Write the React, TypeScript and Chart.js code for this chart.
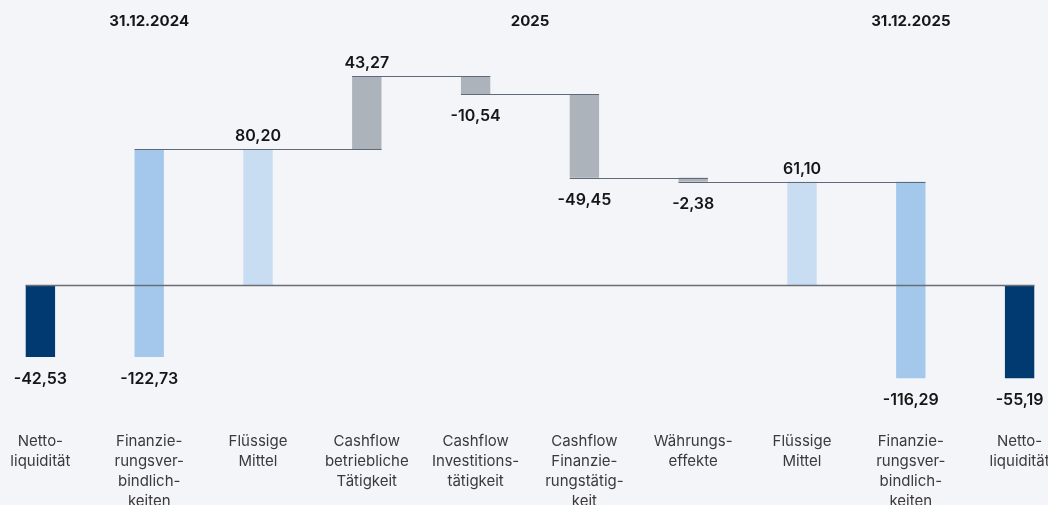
import React, { useEffect, useRef } from "react";
import { Chart, registerables } from "chart.js";

Chart.register(...registerables);

const categories: string[][] = [
  ["Netto-", "liquidität"],
  ["Finanzie-", "rungsver-", "bindlich-", "keiten"],
  ["Flüssige", "Mittel"],
  ["Cashflow", "betriebliche", "Tätigkeit"],
  ["Cashflow", "Investitions-", "tätigkeit"],
  ["Cashflow", "Finanzie-", "rungstätig-", "keit"],
  ["Währungs-", "effekte"],
  ["Flüssige", "Mittel"],
  ["Finanzie-", "rungsver-", "bindlich-", "keiten"],
  ["Netto-", "liquidität"],
];

const values: number[] = [-42.53, -122.73, 80.2, 43.27, -10.54, -49.45, -2.38, 61.1, -116.29, -55.19];

// total: from zero; reverse: subtract from running level; delta: add to running level
const kinds: string[] = ["total", "reverse", "total", "delta", "delta", "delta", "delta", "total", "delta", "total"];

const barColors: string[] = [
  "#003a70", "#a3c8ec", "#c9ddf2", "#adb3bb", "#adb3bb",
  "#adb3bb", "#adb3bb", "#c9ddf2", "#a3c8ec", "#003a70",
];

const headers: { label: string; at: number }[] = [
  { label: "31.12.2024", at: 1 },
  { label: "2025", at: 4.5 },
  { label: "31.12.2025", at: 8 },
];

// connector lines: [fromBar, toBar] at the end level of fromBar
const connectors: [number, number][] = [[1, 3], [3, 4], [4, 5], [5, 6], [6, 8]];

const FONT = "Inter, 'Noto Sans', sans-serif";

function buildRanges(): [number, number][] {
  const out: [number, number][] = [];
  let level = 0;
  values.forEach((v, i) => {
    const k = kinds[i];
    if (k === "total") {
      out.push([0, v]);
      level = v;
    } else if (k === "reverse") {
      out.push([level, level - v]);
      level = level - v;
    } else {
      out.push([level, level + v]);
      level = level + v;
    }
  });
  return out;
}

const fmt = (v: number) => v.toFixed(2).replace(".", ",");

export default function App() {
  const ref = useRef<HTMLCanvasElement | null>(null);

  useEffect(() => {
    document.body.style.background = "#f4f5f9";
    document.body.style.overflow = "hidden";
    const ranges = buildRanges();

    const overlay = {
      id: "waterfallOverlay",
      afterDatasetsDraw(chart: any) {
        const ctx = chart.ctx;
        const meta = chart.getDatasetMeta(0);
        const ys = chart.scales.y;
        const xs = chart.scales.x;
        const els = meta.data;
        const left = (i: number) => els[i].x - els[i].width / 2;
        const right = (i: number) => els[i].x + els[i].width / 2;
        ctx.save();
        // zero line
        ctx.strokeStyle = "#6a6e74";
        ctx.lineWidth = 1.6;
        const y0 = Math.round(ys.getPixelForValue(0)) + 0.5;
        ctx.beginPath();
        ctx.moveTo(left(0), y0);
        ctx.lineTo(right(els.length - 1), y0);
        ctx.stroke();
        // connectors
        ctx.strokeStyle = "#5f6978";
        ctx.lineWidth = 1.2;
        connectors.forEach(([a, b]) => {
          const lvl = ranges[a][1];
          const y = Math.round(ys.getPixelForValue(lvl)) + 0.5;
          ctx.beginPath();
          ctx.moveTo(left(a), y);
          ctx.lineTo(right(b), y);
          ctx.stroke();
        });
        // value labels
        ctx.fillStyle = "#161616";
        ctx.font = `600 16px ${FONT}`;
        ctx.textAlign = "center";
        ctx.textBaseline = "middle";
        values.forEach((v, i) => {
          const [s, e] = ranges[i];
          if (v >= 0) {
            const top = ys.getPixelForValue(Math.max(s, e));
            ctx.fillText(fmt(v), els[i].x, top - 13);
          } else {
            const bot = ys.getPixelForValue(Math.min(s, e));
            ctx.fillText(fmt(v), els[i].x, bot + 22);
          }
        });
        // headers
        ctx.font = `700 15px ${FONT}`;
        headers.forEach((h) => {
          const lo = Math.floor(h.at);
          const hi = Math.ceil(h.at);
          const x = (xs.getPixelForValue(lo) + xs.getPixelForValue(hi)) / 2;
          ctx.fillText(h.label, x, 21);
        });
        ctx.restore();
      },
    };

    const chart = new Chart(ref.current as HTMLCanvasElement, {
      type: "bar",
      data: {
        labels: categories as any,
        datasets: [
          {
            data: ranges as any,
            backgroundColor: barColors,
            borderWidth: 0,
            barPercentage: 0.27,
            categoryPercentage: 1,
          },
        ],
      },
      options: {
        animation: false,
        responsive: true,
        maintainAspectRatio: false,
        layout: { padding: 0 },
        plugins: {
          legend: { display: false },
          tooltip: { enabled: false },
          title: { display: false },
        },
        scales: {
          x: {
            grid: { display: false, drawTicks: false },
            border: { display: false },
            ticks: {
              autoSkip: false,
              maxRotation: 0,
              padding: 21,
              color: "#3a3a3a",
              font: { family: FONT, size: 15, lineHeight: 20 / 15 },
            },
            afterFit(scale: any) {
              scale.height = 95;
            },
          },
          y: {
            display: false,
            min: -73.96,
            max: 168.64,
          },
        },
      },
      plugins: [overlay],
    });
    return () => chart.destroy();
  }, []);

  return (
    <div style={{ position: "fixed", left: "-14px", top: 0, width: "1088px", height: "505px" }}>
      <canvas ref={ref} />
    </div>
  );
}
